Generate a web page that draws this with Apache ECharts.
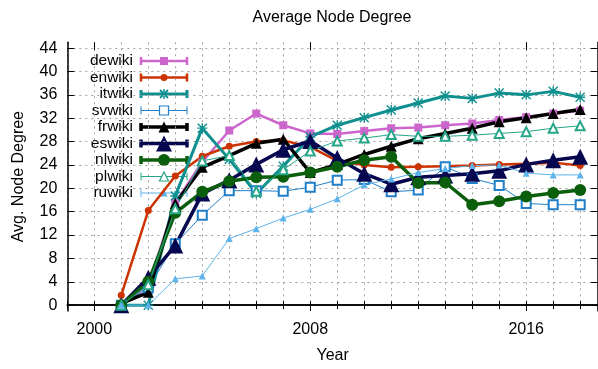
<!DOCTYPE html>
<html><head><meta charset="utf-8">
<script src="https://cdn.jsdelivr.net/npm/echarts@6/dist/echarts.min.js"></script>
<style>html,body{margin:0;padding:0;background:#fff;overflow:hidden}#c{width:598px;height:369px}</style>
</head><body><div id="c"></div>
<script>
const years = [2001,2002,2003,2004,2005,2006,2007,2008,2009,2010,2011,2012,2013,2014,2015,2016,2017,2018];
const dewiki = [0, 3.5, 17.5, 24.5, 29.9, 32.8, 30.8, 29.4, 29.3, 29.8, 30.3, 30.4, 30.8, 31.1, 31.7, 32.2, 32.8, 33.3];
const enwiki = [1.7, 16.2, 22.1, 25.5, 27.2, 28.0, 28.2, 27.1, 24.7, 24.0, 23.6, 23.7, 23.8, 23.9, 24.1, 24.2, 24.4, 23.9];
const itwiki = [0, 0, 18.7, 30.3, 25.0, 19.1, 23.8, 28.8, 30.8, 32.1, 33.4, 34.6, 35.8, 35.4, 36.3, 36.0, 36.6, 35.6];
const svwiki = [0, 3.0, 10.5, 15.4, 19.6, 19.6, 19.5, 20.2, 21.4, 21.5, 19.4, 19.7, 23.7, 21.7, 20.5, 17.4, 17.2, 17.2];
const frwiki = [0.3, 2.2, 17.4, 23.6, 25.6, 27.7, 28.4, 22.7, 24.1, 25.8, 27.2, 28.5, 29.4, 30.3, 31.4, 32.1, 32.8, 33.5];
const eswiki = [0, 4.7, 10.2, 19.1, 21.4, 24.1, 26.6, 28.1, 25.2, 22.5, 20.7, 21.9, 22.2, 22.5, 23.0, 24.1, 24.8, 25.4];
const nlwiki = [0, 4.0, 15.8, 19.4, 21.2, 21.9, 22.0, 22.7, 23.7, 24.8, 25.4, 20.9, 21.0, 17.2, 17.8, 18.6, 19.2, 19.7];
const plwiki = [0, 3.5, 16.5, 24.7, 25.6, 19.5, 23.2, 26.4, 28.1, 28.6, 29.2, 28.9, 28.9, 29.1, 29.4, 29.7, 30.3, 30.7];
const ruwiki = [0, 0, 4.5, 5.0, 11.4, 13.1, 14.9, 16.4, 18.2, 20.6, 21.6, 22.7, 23.4, 23.9, 24.0, 22.6, 22.3, 22.3];
const xTickLabels = [2000, 2008, 2016];
const yTickLabels = [0,4,8,12,16,20,24,28,32,36,40,44];

const FONT = '"Liberation Sans", Arial, Helvetica, sans-serif';
const STARPATH = 'path://M1,0 L5,4 L9,0 L10,1 L6,5 L10,9 L9,10 L5,6 L1,10 L0,9 L4,5 L0,1 Z M4.3,0 L5.7,0 L5.7,4.3 L10,4.3 L10,5.7 L5.7,5.7 L5.7,10 L4.3,10 L4.3,5.7 L0,5.7 L0,4.3 L4.3,4.3 Z';

const seriesDefs = [
  {name:'dewiki', data:dewiki, color:'#cc66cc', width:2.5, symbol:'rect', size:8},
  {name:'enwiki', data:enwiki, color:'#cc3300', width:2.5, symbol:'circle', size:7},
  {name:'itwiki', data:itwiki, color:'#108f8f', width:3, symbol:STARPATH, size:10},
  {name:'svwiki', data:svwiki, color:'#1f7fc8', width:1, symbol:'emptyRect', size:9},
  {name:'frwiki', data:frwiki, color:'#000000', width:3.5, symbol:'triangle', size:11},
  {name:'eswiki', data:eswiki, color:'#07074f', width:3.5, symbol:'triangle', size:16},
  {name:'nlwiki', data:nlwiki, color:'#0b5e0b', width:3.5, symbol:'circle', size:12},
  {name:'plwiki', data:plwiki, color:'#26a688', width:1, symbol:'emptyTriangle', size:9},
  {name:'ruwiki', data:ruwiki, color:'#5cb3e9', width:1, symbol:'triangle', size:7}
];

const series = seriesDefs.map(d => ({
  name: d.name, type:'line', data: years.map((y,i)=>[y, d.data[i]]),
  symbol: d.symbol, symbolSize: d.size, showSymbol:true,
  lineStyle:{color:d.color, width:d.width},
  itemStyle:{color:d.color, borderColor:d.color, borderWidth: d.symbol.startsWith('empty') ? 1.2 : 0},
  emphasis:{disabled:true}, animation:false
}));

// custom legend (gnuplot style: text right, line with caps and symbol)
const graphic = [];
const legX0 = 141, legX1 = 187, legTextX = 133, legY0 = 61, legStep = 16.5;
seriesDefs.forEach((d,i) => {
  const y = legY0 + i*legStep;
  graphic.push({type:'text', x:legTextX, y:y, style:{text:d.name, fill:'#000', font:'15.5px '+FONT, textAlign:'right', textVerticalAlign:'middle'}});
  graphic.push({type:'line', shape:{x1:legX0,y1:y,x2:legX1,y2:y}, style:{stroke:d.color, lineWidth:d.width}});
  graphic.push({type:'line', shape:{x1:legX0,y1:y-4,x2:legX0,y2:y+4}, style:{stroke:d.color, lineWidth:d.width}});
  graphic.push({type:'line', shape:{x1:legX1,y1:y-4,x2:legX1,y2:y+4}, style:{stroke:d.color, lineWidth:d.width}});
  const cx = (legX0+legX1)/2, s = d.size;
  if (d.symbol === 'rect') graphic.push({type:'rect', shape:{x:cx-s/2,y:y-s/2,width:s,height:s}, style:{fill:d.color}});
  else if (d.symbol === 'emptyRect') graphic.push({type:'rect', shape:{x:cx-s/2,y:y-s/2,width:s,height:s}, style:{fill:'#fff', stroke:d.color, lineWidth:1.2}});
  else if (d.symbol === 'circle') graphic.push({type:'circle', shape:{cx:cx,cy:y,r:s/2}, style:{fill:d.color}});
  else if (d.symbol === 'triangle') graphic.push({type:'polygon', shape:{points:[[cx,y-s/2],[cx+s/2,y+s/2],[cx-s/2,y+s/2]]}, style:{fill:d.color}});
  else if (d.symbol === 'emptyTriangle') graphic.push({type:'polygon', shape:{points:[[cx,y-s/2],[cx+s/2,y+s/2],[cx-s/2,y+s/2]]}, style:{fill:'#fff', stroke:d.color, lineWidth:1.2}});
  else {
    const h = s/2 - 1;
    graphic.push({type:'line', shape:{x1:cx-h,y1:y-h,x2:cx+h,y2:y+h}, style:{stroke:d.color, lineWidth:1.8}});
    graphic.push({type:'line', shape:{x1:cx-h,y1:y+h,x2:cx+h,y2:y-h}, style:{stroke:d.color, lineWidth:1.8}});
    graphic.push({type:'line', shape:{x1:cx,y1:y-s/2,x2:cx,y2:y+s/2}, style:{stroke:d.color, lineWidth:1.5}});
  }
});

const XMIN = 1999, XMAX = 2018.66, YMIN = -1, YMAX = 45;
const axisLineS = {show:true, lineStyle:{color:'#000', width:1.5}};
const gridDash = {show:true, lineStyle:{color:'#a0a0a0', width:1, type:[2,4]}};
const labelStyle = {color:'#000', fontSize:16, fontFamily:FONT};

const option = {
  backgroundColor:'#fff',
  animation:false,
  title:{text:'Average Node Degree', left:327, top:5, textAlign:'center',
         textStyle:{color:'#000', fontSize:16, fontWeight:'normal', fontFamily:FONT}},
  grid:{left:67.3, right:-1, top:42.3, bottom:52.5, containLabel:false},
  xAxis:[
    {type:'value', min:XMIN, max:XMAX, interval:1, position:'bottom',
     axisLine:axisLineS, axisTick:{show:true, inside:true, length:4, lineStyle:{color:'#000'}},
     axisLabel:Object.assign({formatter:v => xTickLabels.includes(v) ? String(v) : '', margin:11, showMaxLabel:false}, labelStyle),
     splitLine:gridDash,
     name:'Year', nameLocation:'middle', nameGap:37, nameTextStyle:labelStyle},
    {type:'value', min:XMIN, max:XMAX, interval:1, position:'top',
     axisLine:axisLineS, axisTick:{show:true, inside:true, length:4, lineStyle:{color:'#000'}},
     axisLabel:{show:false}, splitLine:{show:false}},
    {type:'value', min:XMIN, max:XMAX, position:'bottom',
     axisLine:{show:false}, axisTick:{show:true, inside:true, length:8, customValues:xTickLabels, lineStyle:{color:'#000'}},
     axisLabel:{show:false}, splitLine:{show:false}},
    {type:'value', min:XMIN, max:XMAX, position:'top',
     axisLine:{show:false}, axisTick:{show:true, inside:true, length:8, customValues:xTickLabels, lineStyle:{color:'#000'}},
     axisLabel:{show:false}, splitLine:{show:false}}
  ],
  yAxis:[
    {type:'value', min:YMIN, max:YMAX, position:'left',
     axisLine:axisLineS, axisTick:{show:true, inside:true, length:7, customValues:yTickLabels, lineStyle:{color:'#000'}},
     axisLabel:Object.assign({customValues:yTickLabels, margin:10}, labelStyle),
     splitLine:gridDash,
     name:'Avg. Node Degree', nameLocation:'middle', nameGap:41, nameTextStyle:labelStyle},
    {type:'value', min:YMIN, max:YMAX, position:'right',
     axisLine:axisLineS, axisTick:{show:true, inside:true, length:7, customValues:yTickLabels, lineStyle:{color:'#000'}},
     axisLabel:{show:false}, splitLine:{show:false}}
  ],
  series: series,
  graphic: graphic
};
const chart = echarts.init(document.getElementById('c'), null, {renderer:'canvas'});
chart.setOption(option);
</script></body></html>
